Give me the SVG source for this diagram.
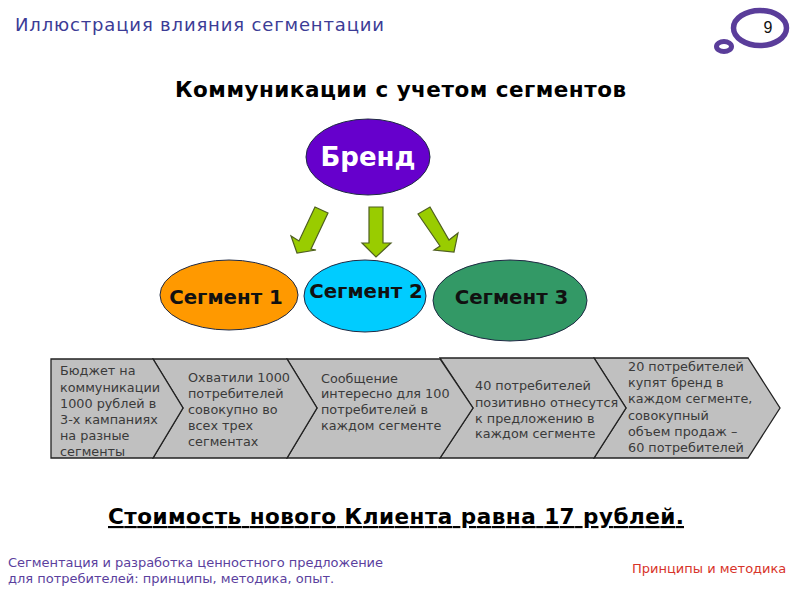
<svg xmlns="http://www.w3.org/2000/svg" width="800" height="600" viewBox="0 0 800 600">
<style>
text{font-family:"DejaVu Sans",Verdana,sans-serif}
.t{font-size:18px;fill:#3c3c96}
.foot{font-size:13px;fill:#5b3f9e}
.red{font-size:13px;fill:#d8342a}
.h{font-size:21.5px;font-weight:bold;fill:#000}
.seg{font-size:19.8px;font-weight:bold;fill:#111}
.c{font-size:12.8px;fill:#3a3a3a}
.chev{fill:#c0c0c0;stroke:#222;stroke-width:1.3}
.arr{fill:#99cc00;stroke:#4f5f20;stroke-width:1.2}
.el{stroke:#1f2a44;stroke-width:1}
</style>
<rect width="800" height="600" fill="#fff"/>
<text class="t" x="15" y="31" textLength="369">Иллюстрация влияния сегментации</text>
<g id="badge">
<ellipse cx="760" cy="28" rx="26.5" ry="17.5" fill="none" stroke="#5a3d9a" stroke-width="5.5"/>
<ellipse cx="724" cy="46.500" rx="7.500" ry="5" fill="none" stroke="#5a3d9a" stroke-width="5"/>
<text x="768" y="33" font-size="16" text-anchor="middle" style="font-family:'Liberation Sans',sans-serif" fill="#111">9</text>
</g>
<text class="h" x="175" y="97" textLength="451">Коммуникации с учетом сегментов</text>
<g id="brand">
<ellipse class="el" cx="368" cy="157" rx="62" ry="38" fill="#6600cc"/>
<text x="368" y="166" text-anchor="middle" font-size="26" font-weight="bold" fill="#fff">Бренд</text>
</g>
<g id="connectors">
<path class="arr" d="M315,207L328,213L311,249L316,250L297,253L291,236L299,241Z"/>
<path class="arr" d="M369,207H383V243H391L376,257L362,243H369Z"/>
<path class="arr" d="M418,214L430,207L449,240L458,233L454,252L434,250L440,246Z"/>
</g>
<g id="seg1">
<ellipse class="el" cx="229" cy="295" rx="69" ry="35" fill="#ff9900"/>
<text class="seg" x="226" y="304" text-anchor="middle">Сегмент 1</text>
</g>
<g id="seg2">
<ellipse class="el" cx="365" cy="296" rx="61" ry="36" fill="#00ccff"/>
<text class="seg" x="366" y="298" text-anchor="middle">Сегмент 2</text>
</g>
<g id="seg3">
<ellipse class="el" cx="510" cy="300.500" rx="77" ry="40.500" fill="#339966"/>
<text class="seg" x="511.500" y="304" text-anchor="middle">Сегмент 3</text>
</g>
<g id="step5"><path class="chev" d="M594,358H748L780,408L748,458H594L626,408Z"/>
<text class="c"><tspan x="628" y="371">20 потребителей</tspan><tspan x="628" y="387">купят бренд в</tspan><tspan x="628" y="403">каждом сегменте,</tspan><tspan x="628" y="420">совокупный</tspan><tspan x="628" y="436">объем продаж –</tspan><tspan x="628" y="452">60 потребителей</tspan></text></g>
<g id="step4"><path class="chev" d="M440,358H594L626,408L594,458H440L473,408Z"/>
<text class="c"><tspan x="475" y="390">40 потребителей</tspan><tspan x="475" y="407">позитивно отнесутся</tspan><tspan x="475" y="423">к предложению в</tspan><tspan x="475" y="438">каждом сегменте</tspan></text></g>
<g id="step3"><path class="chev" d="M287,359H440L473,408L440,458H287L317,408Z"/>
<text class="c"><tspan x="321" y="383">Сообщение</tspan><tspan x="321" y="398">интересно для 100</tspan><tspan x="321" y="414">потребителей в</tspan><tspan x="321" y="430">каждом сегменте</tspan></text></g>
<g id="step2"><path class="chev" d="M153,359H287L317,408L287,458H153L183,408Z"/>
<text class="c"><tspan x="188" y="382">Охватили 1000</tspan><tspan x="188" y="398">потребителей</tspan><tspan x="188" y="414">совокупно во</tspan><tspan x="188" y="430">всех трех</tspan><tspan x="188" y="446">сегментах</tspan></text></g>
<g id="step1"><path class="chev" d="M51,359H153L183,408L153,458H51Z"/>
<text class="c"><tspan x="60" y="375">Бюджет на</tspan><tspan x="60" y="392">коммуникации</tspan><tspan x="60" y="408">1000 рублей в</tspan><tspan x="60" y="424">3-х кампаниях</tspan><tspan x="60" y="440">на разные</tspan><tspan x="60" y="456">сегменты</tspan></text></g>
<text class="h" x="108" y="524" textLength="576" text-decoration="underline">Стоимость нового Клиента равна 17 рублей.</text>
<text class="foot"><tspan x="8" y="567" textLength="375">Сегментация и разработка ценностного предложение</tspan><tspan x="8" y="583">для потребителей: принципы, методика, опыт.</tspan></text>
<text class="red" x="632" y="573">Принципы и методика</text>
</svg>
